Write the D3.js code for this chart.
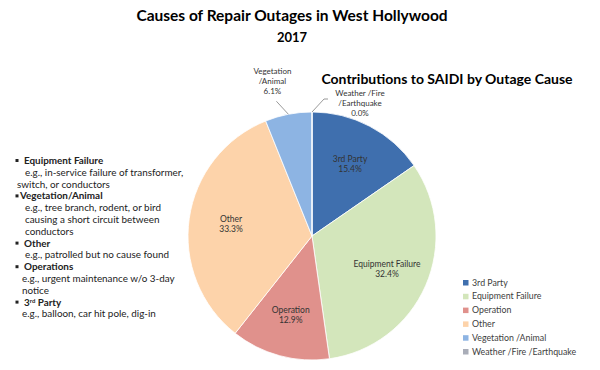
<!DOCTYPE html>
<html>
<head>
<meta charset="utf-8">
<script src="https://cdn.jsdelivr.net/npm/d3@7"></script>
<style>
  body { margin: 0; background: #fff; }
  svg { display: block; font-family: Lato, "Noto Sans", sans-serif; }
</style>
</head>
<body>
<script>
// data
const causes = ['3rd Party', 'Equipment Failure', 'Operation', 'Other', 'Vegetation /Animal', 'Weather /Fire /Earthquake'];
const shares = [15.4, 32.4, 12.9, 33.3, 6.1, 0.0];
const sliceLabels = [['3rd Party'], ['Equipment Failure'], ['Operation'], ['Other'], ['Vegetation', '/Animal'], ['Weather  /Fire', '/Earthquake']];
const colours = ['#3f6fae', '#d3e6bb', '#e0918c', '#fdd3aa', '#8db4e3', '#a9adb8'];

const notes = [
  { head: 'Equipment Failure', gap: true, lines: [['e.g., in-service failure of transformer,', 25], ['switch, or conductors', 17]] },
  { head: 'Vegetation/Animal', gap: false, lines: [['e.g., tree branch, rodent, or bird', 25], ['causing a short circuit between', 25], ['conductors', 25]] },
  { head: 'Other', gap: true, lines: [['e.g., patrolled but no cause found', 25]] },
  { head: 'Operations', gap: true, lines: [['e.g., urgent maintenance w/o 3-day', 22], ['notice', 22]] },
  { head: '3rd Party', gap: true, lines: [['e.g., balloon, car hit pole, dig-in', 22]] }
];

const width = 600, height = 370;
const cx = 312, cy = 236, radius = 124;

const svg = d3.select('body').append('svg')
  .attr('width', width)
  .attr('height', height);

svg.append('text')
  .attr('x', 292).attr('y', 21)
  .attr('text-anchor', 'middle')
  .style('font-size', '15.5px').style('font-weight', 'bold')
  .text('Causes of Repair Outages in West Hollywood');

svg.append('text')
  .attr('x', 292).attr('y', 42)
  .attr('text-anchor', 'middle')
  .style('font-size', '13px').style('font-weight', 'bold')
  .text('2017');

svg.append('text')
  .attr('x', 447).attr('y', 84)
  .attr('text-anchor', 'middle')
  .style('font-size', '14px').style('font-weight', 'bold')
  .text('Contributions to SAIDI by Outage Cause');

// pie
const pie = d3.pie().sort(null).value((d) => d.value);
const arcs = pie(shares.map((v, i) => ({ value: v, i: i })));
const arc = d3.arc().innerRadius(0).outerRadius(radius);
const labelArc = d3.arc().innerRadius(radius * 0.66).outerRadius(radius * 0.66);

const g = svg.append('g').attr('transform', `translate(${cx}, ${cy})`);

g.selectAll('path')
  .data(arcs)
  .enter()
  .append('path')
  .attr('d', arc)
  .attr('fill', (d) => colours[d.data.i])
  .attr('stroke', '#fff')
  .attr('stroke-width', 0.8);

const inside = arcs.filter((d) => d.data.value > 10);
const outside = arcs.filter((d) => d.data.value <= 10);

inside.forEach((d) => {
  const [x, y] = labelArc.centroid(d);
  const t = g.append('text')
    .attr('text-anchor', 'middle')
    .style('font-size', '8.5px')
    .attr('fill', '#333');
  const lines = sliceLabels[d.data.i].concat([d.data.value.toFixed(1) + '%']);
  lines.forEach((s, k) => {
    t.append('tspan').attr('x', x).attr('y', y - 2 + k * 10).text(s);
  });
});

outside.forEach((d) => {
  const mid = (d.startAngle + d.endAngle) / 2;
  const ex = Math.sin(mid) * radius, ey = -Math.cos(mid) * radius;
  const side = Math.sin(mid) < -0.01 ? -1 : 1;
  const lx = ex + side * 12, ly = ey - 13;
  const pts = side < 0 ? [[ex, ey], [lx, ly]] : [[ex, ey], [lx, ly], [lx + 4, ly]];
  g.append('path')
    .attr('d', d3.line()(pts))
    .attr('fill', 'none')
    .attr('stroke', '#7f7f7f')
    .attr('stroke-width', 0.8);
  const lines = sliceLabels[d.data.i].concat([d.data.value.toFixed(1) + '%']);
  const tx = side < 0 ? lx - 4 : lx + 36;
  const ty = side < 0 ? ly - 27 : ly - 3;
  const t = g.append('text')
    .attr('text-anchor', 'middle')
    .style('font-size', '8px')
    .attr('fill', '#333');
  lines.forEach((s, k) => {
    t.append('tspan').attr('x', tx).attr('y', ty + k * 10).text(s);
  });
});

// legend
const legend = svg.append('g').attr('transform', 'translate(463, 280)');
const item = legend.selectAll('g')
  .data(causes)
  .enter()
  .append('g')
  .attr('transform', (d, i) => `translate(0, ${i * 13.8})`);
item.append('rect')
  .attr('width', 5.5).attr('height', 5.5)
  .attr('fill', (d, i) => colours[i]);
item.append('text')
  .attr('x', 9).attr('y', 5.5)
  .style('font-size', '8.8px')
  .attr('fill', '#404040')
  .text((d) => d);

// notes on the left
const box = svg.append('g').style('font-size', '9.9px').attr('fill', '#222');
let y = 164;
notes.forEach((n) => {
  box.append('rect').attr('x', 15.5).attr('y', y - 5).attr('width', 3).attr('height', 3).attr('fill', '#222');
  const h = box.append('text').attr('x', n.gap ? 24 : 20).attr('y', y).style('font-weight', 'bold');
  if (n.head === '3rd Party') {
    h.append('tspan').text('3');
    h.append('tspan').attr('dy', -3).style('font-size', '6px').text('rd');
    h.append('tspan').attr('dy', 3).text(' Party');
  } else {
    h.text(n.head);
  }
  y += 11.8;
  n.lines.forEach(([s, x]) => {
    box.append('text').attr('x', x).attr('y', y).text(s);
    y += 11.8;
  });
});
</script>
</body>
</html>
